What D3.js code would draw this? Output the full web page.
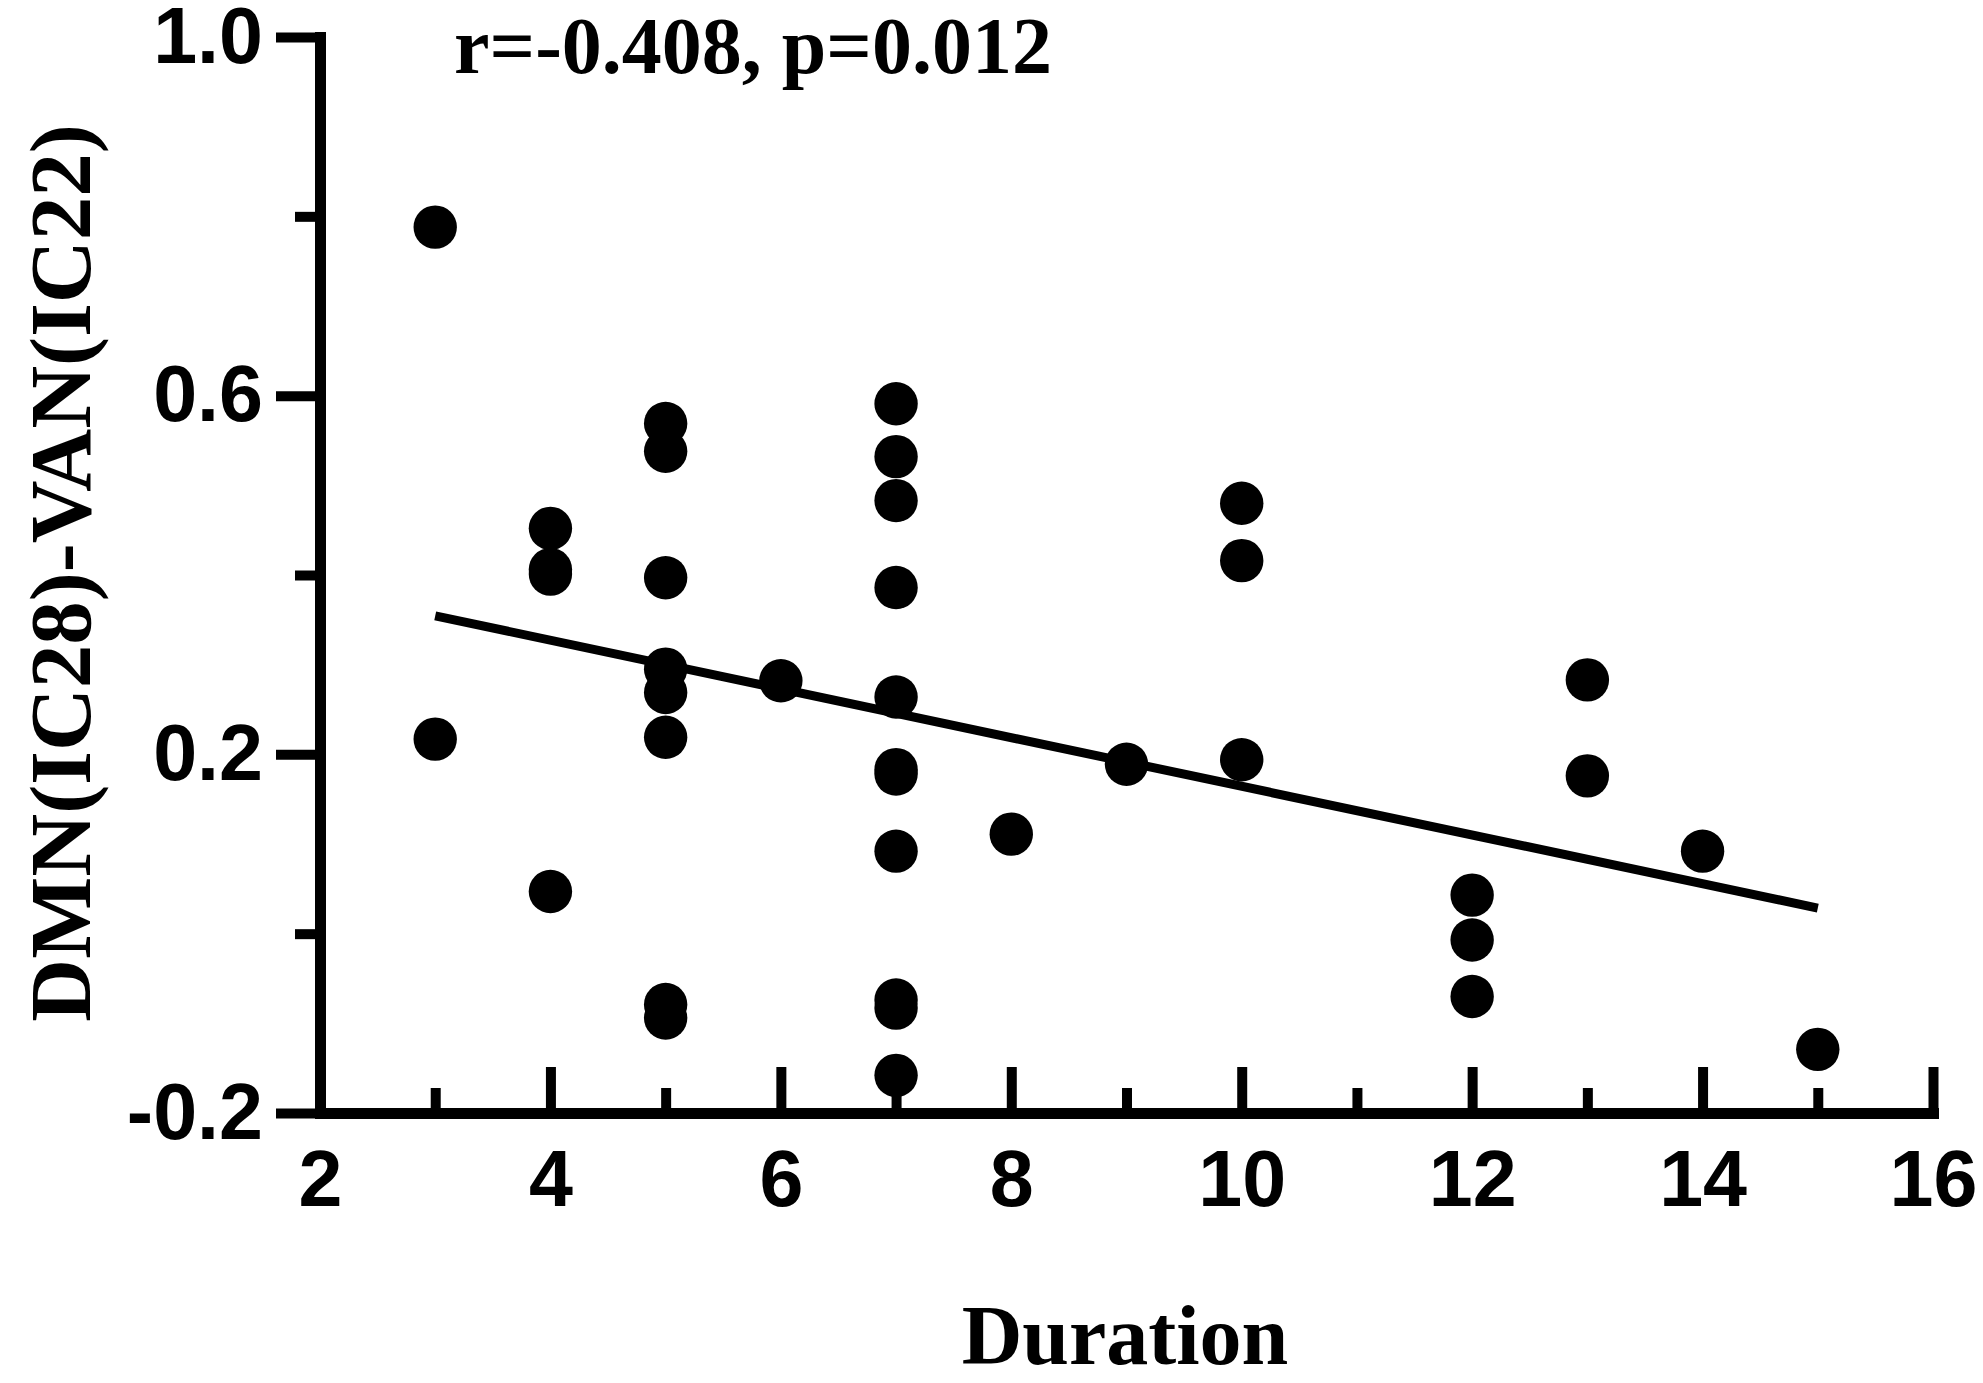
<!DOCTYPE html>
<html>
<head>
<meta charset="utf-8">
<script src="https://cdn.jsdelivr.net/npm/d3@7"></script>
<style>
  body { margin: 0; background: #fff; }
</style>
</head>
<body>
<div id="chart"></div>
<script>
// duration (x) and DMN-VAN connectivity (y)
const durations = [3, 3,
  4, 4, 4, 4,
  5, 5, 5, 5, 5, 5, 5, 5,
  6,
  7, 7, 7, 7, 7, 7, 7, 7, 7, 7, 7,
  8, 9,
  10, 10, 10,
  12, 12, 12,
  13, 13,
  14, 15];
const connectivity = [0.788, 0.217,
  0.452, 0.406, 0.401, 0.047,
  0.569, 0.538, 0.397, 0.295, 0.269, 0.219, -0.079, -0.094,
  0.282,
  0.591, 0.532, 0.483, 0.386, 0.264, 0.183, 0.178, 0.092, -0.074, -0.083, -0.158,
  0.111, 0.189,
  0.480, 0.416, 0.194,
  0.043, -0.007, -0.070,
  0.283, 0.176,
  0.092, -0.129];

const xMajorTicks = [2, 4, 6, 8, 10, 12, 14, 16];
const xMinorTicks = [3, 5, 7, 9, 11, 13, 15];
const yMajorTicks = [-0.2, 0.2, 0.6, 1.0];
const yMinorTicks = [0.0, 0.4, 0.8];

const statsLabel = "r=-0.408, p=0.012";
const xTitle = "Duration";
const yTitle = "DMN(IC28)-VAN(IC22)";

const width = 1983, height = 1383;
const sans = "'Liberation Sans', Arial, sans-serif";
const serif = "'Liberation Serif', 'Times New Roman', serif";

const svg = d3.select("#chart").append("svg")
  .attr("width", width).attr("height", height);

const x = d3.scaleLinear().domain([2, 16]).range([320, 1933]);
const y = d3.scaleLinear().domain([-0.2, 1.0]).range([1113, 37]);

function styleAxis(g) {
  g.select(".domain").attr("stroke-width", 11).attr("stroke-linecap", "square");
  g.selectAll(".tick line").attr("stroke-width", 10);
  g.selectAll("text")
    .attr("font-family", sans)
    .attr("font-weight", "bold")
    .attr("font-size", 79)
    .attr("fill", "#000");
}

// y axis, ticks outward
svg.append("g")
  .attr("transform", `translate(${x(2)},0)`)
  .call(d3.axisLeft(y).tickValues(yMinorTicks).tickSizeInner(25).tickSizeOuter(0).tickFormat(""))
  .call(g => g.select(".domain").remove())
  .call(styleAxis);

svg.append("g")
  .attr("transform", `translate(${x(2)},0)`)
  .call(d3.axisLeft(y).tickValues(yMajorTicks).tickSizeInner(44).tickSizeOuter(0)
    .tickPadding(13).tickFormat(d => d.toFixed(1)))
  .call(styleAxis);

// x axis, ticks point up into the plot
svg.append("g")
  .attr("transform", `translate(0,${y(-0.2)})`)
  .call(d3.axisBottom(x).tickValues(xMinorTicks).tickSizeInner(-25).tickSizeOuter(0).tickFormat(""))
  .call(g => g.select(".domain").remove())
  .call(styleAxis);

svg.append("g")
  .attr("transform", `translate(0,${y(-0.2)})`)
  .call(d3.axisBottom(x).tickValues(xMajorTicks).tickSizeInner(-46).tickSizeOuter(0)
    .tickPadding(37).tickFormat(d3.format("d")))
  .call(styleAxis);

// least squares fit over the data range
const pts = durations.map((d, i) => ({ x: d, y: connectivity[i] }));
const mx = d3.mean(pts, d => d.x), my = d3.mean(pts, d => d.y);
const slope = d3.sum(pts, d => (d.x - mx) * (d.y - my)) / d3.sum(pts, d => (d.x - mx) ** 2);
const intercept = my - slope * mx;
const fitX = d3.extent(durations);

const line = d3.line()
  .x(d => x(d))
  .y(d => y(intercept + slope * d));

svg.append("path")
  .attr("d", line(fitX))
  .attr("stroke", "#000")
  .attr("stroke-width", 9)
  .attr("fill", "none");

svg.append("g")
  .selectAll("circle")
  .data(pts)
  .join("circle")
  .attr("cx", d => x(d.x))
  .attr("cy", d => y(d.y))
  .attr("r", 21.7)
  .attr("fill", "#000");

// titles
svg.append("text")
  .attr("x", 753).attr("y", 73)
  .attr("text-anchor", "middle")
  .attr("font-family", serif).attr("font-weight", "bold").attr("font-size", 80)
  .text(statsLabel);

svg.append("text")
  .attr("x", 1125).attr("y", 1364)
  .attr("text-anchor", "middle")
  .attr("font-family", serif).attr("font-weight", "bold").attr("font-size", 84)
  .text(xTitle);

svg.append("text")
  .attr("transform", "translate(90,573) rotate(-90)")
  .attr("text-anchor", "middle")
  .attr("font-family", serif).attr("font-weight", "bold").attr("font-size", 87)
  .text(yTitle);
</script>
</body>
</html>
